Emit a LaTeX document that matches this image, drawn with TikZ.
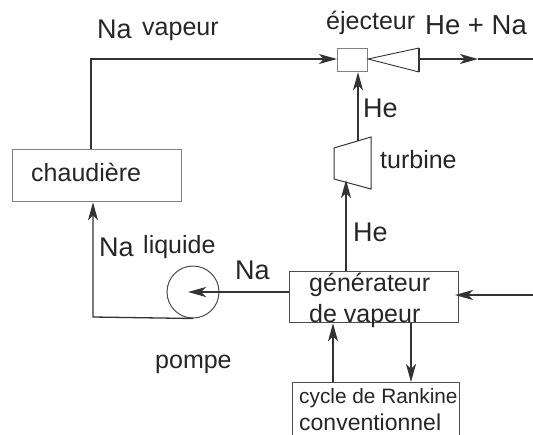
\documentclass[tikz,border=0pt]{standalone}
\usepackage{fontspec}
\setmainfont{Liberation Sans}
\usepackage{tikz}
\usetikzlibrary{arrows.meta,positioning,calc}
\definecolor{traitgris}{rgb}{0.30,0.30,0.30}
\begin{document}
\begin{tikzpicture}[x=1pt,y=-1pt,
   bx/.style={draw=traitgris,line width=1.3pt,inner sep=0pt,anchor=north west},
   flux/.style={draw=black!80,line width=1.3pt},
   fl/.style={flux,-{Stealth[length=18pt,width=10pt,inset=5pt]}},
   lab/.style={inner sep=0pt,anchor=base west,text=black!85,font=\fontsize{25}{25}\selectfont},
   labg/.style={lab,font=\fontsize{27}{27}\selectfont}]
  \useasboundingbox (0,0) rectangle (533,434);
  % composants
  \node[bx,draw=gray,minimum width=169pt,minimum height=52pt] (ch) at (12,149) {};
  \node[bx,draw=gray,minimum width=30pt,minimum height=23pt] (ej) at (337,48) {};
  \coordinate (cone) at (368,59);
  \coordinate (conehaut) at (419,48);
  \coordinate (conebas) at (419,72);
  \draw[flux,line width=0.9pt] (conebas) -- (cone) -- (conehaut);
  \draw[flux] (conehaut) -- (conebas);
  \coordinate (tba) at (334,148);
  \coordinate (tbb) at (371,137);
  \coordinate (tbc) at (371,189);
  \coordinate (tbd) at (334,179);
  \draw[flux,line width=1pt] (tba) -- (tbb) -- (tbc) -- (tbd) -- cycle;
  \node[bx,minimum width=169pt,minimum height=51pt] (gv) at (289,271) {};
  \node[bx,minimum width=167pt,minimum height=70pt] (rk) at (292,382) {};
  \node[draw=traitgris,line width=1pt,circle,minimum size=52pt,inner sep=0pt] (po) at (193,292) {};
  % circuit Na
  \coordinate (coin) at (91,59);
  \coordinate (bas) at (93,317);
  \coordinate (sortie) at (533,59);
  \coordinate (milieu) at (478,59);
  \coordinate (entree) at (533,295);
  \coordinate (gventree) at (455,295);
  \coordinate (potip) at (188,292);
  \draw[fl] (ch.north -| coin) -- (coin) -- (ej.west |- coin);
  \draw[flux] (milieu) -- (sortie);
  \draw[fl] (conehaut |- milieu) -- (milieu);
  \draw[fl] (po.south) -- (bas) -- (bas |- ch.south);
  \draw[fl] (gv.west |- potip) -- (potip);
  \draw[fl] (entree) -- (gventree);
  % circuit He
  \coordinate (tbin) at (346,180);
  \coordinate (tbout) at (358,141);
  \coordinate (rkout) at (333,382);
  \coordinate (rkin) at (411,382);
  \draw[fl] (tbin |- gv.north) -- (tbin);
  \draw[fl] (tbout) -- (tbout |- ej.south);
  \draw[fl] (rkout) -- (rkout |- gv.south);
  \draw[fl] (rkin |- gv.south) -- (rkin);
  % textes
  \node[lab] (chtxt) at (31,181) {chaudière};
  \node[labg] (l1) at (97,38) {Na};
  \node[lab] (l2) at (142,35) {vapeur};
  \node[lab] (l3) at (326,29) {éjecteur};
  \node[labg,font=\fontsize{27.5}{27.5}\selectfont] (l4) at (425,34) {He + Na};
  \node[labg] (l5) at (363,117) {He};
  \node[lab] (l6) at (380,168) {turbine};
  \node[labg] (l7) at (353,241) {He};
  \node[labg] (l8) at (99,256) {Na};
  \node[lab] (l9) at (143,253) {liquide};
  \node[labg] (l10) at (235,279) {Na};
  \node[lab] (l11) at (155,368) {pompe};
  \node[lab] (l12) at (309,291) {générateur};
  \node[lab] (l13) at (309,322) {de vapeur};
  \node[lab,font=\fontsize{20.8}{21}\selectfont] (l14) at (299,403) {cycle de Rankine};
  \node[lab,font=\fontsize{23}{23}\selectfont] (l15) at (299,430) {conventionnel};
\end{tikzpicture}
\end{document}
